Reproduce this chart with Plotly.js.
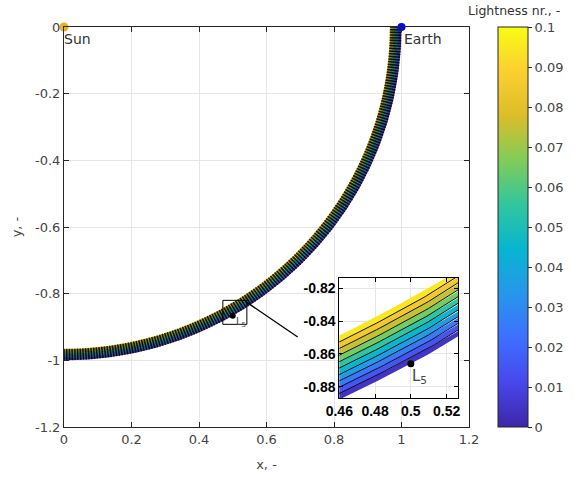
<!DOCTYPE html>
<html>
<head>
<meta charset="utf-8">
<script src="https://cdn.plot.ly/plotly-3.0.1.min.js"></script>
<style>html,body{margin:0;padding:0;background:#fff;}#plot{width:575px;height:481px;}</style>
</head>
<body>
<div id="plot"></div>
<script>
// ---- data ----
const levels = [0, 0.01, 0.02, 0.03, 0.04, 0.05, 0.06, 0.07, 0.08, 0.09, 0.1];
const radii  = [1.0000, 0.9967, 0.9933, 0.9899, 0.9865, 0.9830, 0.9796, 0.9761, 0.9725, 0.9690, 0.9655];
const bodyNames = ['Sun', 'Earth'];
const bodyX = [0, 1];
const bodyY = [0, 0];
const l5X = [0.5];
const l5Y = [-0.866];
const mainTickVals = [0, 0.2, 0.4, 0.6, 0.8, 1, 1.2];
const mainXTickText = ['0', '0.2', '0.4', '0.6', '0.8', '1', '1.2'];
const mainYTickVals = [0, -0.2, -0.4, -0.6, -0.8, -1, -1.2];
const mainYTickText = ['0', '-0.2', '-0.4', '-0.6', '-0.8', '-1', '-1.2'];
const insetXTicks = [0.46, 0.48, 0.5, 0.52];
const insetXText = ['0.46', '0.48', '0.5', '0.52'];
const insetYTicks = [-0.82, -0.84, -0.86, -0.88];
const insetYText = ['-0.82', '-0.84', '-0.86', '-0.88'];
const cbarTicks = [0, 0.01, 0.02, 0.03, 0.04, 0.05, 0.06, 0.07, 0.08, 0.09, 0.1];
const cbarText = ['0', '0.01', '0.02', '0.03', '0.04', '0.05', '0.06', '0.07', '0.08', '0.09', '0.1'];
const zoomBoxX = [0.4706, 0.5418];
const zoomBoxY = [-0.892, -0.820];
const leaderX = [0.5418, 0.6925];
const leaderY = [-0.8261, -0.930];

// ---- styling ----
const parula = [
  [62,38,168],[71,71,235],[62,111,255],[39,150,235],[8,181,208],
  [49,198,159],[129,204,89],[220,189,41],[252,207,48],[249,251,21]
];
const colorscale = parula.map((c, i) => [i / (parula.length - 1), 'rgb(' + c.join(',') + ')']);
function colorAt(t) {
  const n = parula.length - 1;
  const p = Math.min(Math.max(t, 0), 1) * n;
  const i = Math.min(Math.floor(p), n - 1);
  const f = p - i;
  const c = parula[i].map((v, k) => Math.round(v + (parula[i + 1][k] - v) * f));
  return 'rgb(' + c.join(',') + ')';
}
const vmin = levels[0], vmax = levels[levels.length - 1];

function arc(r, a0, a1, n) {
  const xs = [], ys = [];
  for (let i = 0; i <= n; i++) {
    const a = a0 + (a1 - a0) * i / n;
    xs.push(r * Math.cos(a)); ys.push(r * Math.sin(a));
  }
  return [xs, ys];
}

const traces = [];
const A0 = -Math.PI / 2, A1 = 0;

function addBands(xa, ya, a0, a1, n) {
  for (let k = 0; k < levels.length - 1; k++) {
    const [xo, yo] = arc(radii[k], a0, a1, n);
    const [xi, yi] = arc(radii[k + 1], a1, a0, n);
    const mid = (levels[k] + levels[k + 1]) / 2;
    traces.push({
      type: 'scatter', mode: 'lines', xaxis: xa, yaxis: ya,
      x: xo.concat(xi), y: yo.concat(yi), fill: 'toself',
      fillcolor: colorAt((mid - vmin) / (vmax - vmin)),
      line: {width: 0}, hoverinfo: 'skip', showlegend: false
    });
  }
}
function addLevelLines(xa, ya, a0, a1, n, w, col, from, to) {
  let xs = [], ys = [];
  for (let k = from; k <= to; k++) {
    const [x, y] = arc(radii[k], a0, a1, n);
    xs = xs.concat(x, [null]); ys = ys.concat(y, [null]);
  }
  traces.push({type: 'scatter', mode: 'lines', xaxis: xa, yaxis: ya, x: xs, y: ys,
    line: {color: col, width: w}, hoverinfo: 'skip', showlegend: false});
}

// main band
addBands('x', 'y', A0, A1, 360);
addLevelLines('x', 'y', A0, A1, 360, 0.7, 'rgba(0,0,0,0.7)', 1, levels.length - 2);
(function () {
  const xs = [], ys = [];
  const nRad = 190;
  const rOut = radii[0], rIn = radii[radii.length - 1];
  for (let i = 0; i <= nRad; i++) {
    const a = A0 + (A1 - A0) * i / nRad;
    xs.push(rOut * Math.cos(a), rIn * Math.cos(a), null);
    ys.push(rOut * Math.sin(a), rIn * Math.sin(a), null);
  }
  traces.push({type: 'scatter', mode: 'lines', xaxis: 'x', yaxis: 'y', x: xs, y: ys,
    line: {color: 'rgba(0,0,0,0.85)', width: 1.5}, hoverinfo: 'skip', showlegend: false});
})();

// bodies
traces.push({type: 'scatter', mode: 'markers', xaxis: 'x', yaxis: 'y',
  x: [bodyX[0]], y: [bodyY[0]], marker: {color: 'rgb(237,177,32)', size: 9},
  cliponaxis: false, hoverinfo: 'skip', showlegend: false});
traces.push({type: 'scatter', mode: 'markers', xaxis: 'x', yaxis: 'y',
  x: [bodyX[1]], y: [bodyY[1]], marker: {color: 'rgb(0,0,255)', size: 8},
  cliponaxis: false, hoverinfo: 'skip', showlegend: false});
traces.push({type: 'scatter', mode: 'markers', xaxis: 'x', yaxis: 'y',
  x: l5X, y: l5Y, marker: {color: '#000', size: 6}, hoverinfo: 'skip', showlegend: false});

// inset
const iA0 = -70 * Math.PI / 180, iA1 = -50 * Math.PI / 180;
addBands('x2', 'y2', iA0, iA1, 160);
addLevelLines('x2', 'y2', iA0, iA1, 160, 1, '#111', 1, levels.length - 2);
traces.push({type: 'scatter', mode: 'markers', xaxis: 'x2', yaxis: 'y2',
  x: l5X, y: l5Y, marker: {color: '#000', size: 7}, cliponaxis: false,
  hoverinfo: 'skip', showlegend: false});

// colorbar carrier
traces.push({type: 'scatter', mode: 'markers', xaxis: 'x', yaxis: 'y',
  x: [5, 5], y: [5, 5], hoverinfo: 'skip', showlegend: false,
  marker: {size: 1, opacity: 0, color: [vmin, vmax], cmin: vmin, cmax: vmax,
    colorscale: colorscale, showscale: true,
    colorbar: {x: 1.069, xanchor: 'left', xref: 'paper', y: 0.5, yanchor: 'middle',
      len: 1, lenmode: 'fraction', thickness: 30, thicknessmode: 'pixels',
      xpad: 0, ypad: 0, outlinewidth: 1, outlinecolor: '#262626',
      tickvals: cbarTicks, ticktext: cbarText, ticks: 'outside', ticklen: 4,
      tickcolor: '#262626', tickfont: {family: 'DejaVu Sans', size: 13, color: '#444'}}}
});

const baseFont = {family: 'DejaVu Sans', size: 13, color: '#444'};
const layout = {
  width: 575, height: 481,
  margin: {l: 64, r: 105, t: 27, b: 54},
  paper_bgcolor: '#fff', plot_bgcolor: '#fff',
  font: baseFont, showlegend: false,
  xaxis: {domain: [0, 1], range: [0, 1.2], tickvals: mainTickVals, ticktext: mainXTickText,
    ticks: 'inside', ticklen: 5, tickcolor: '#262626', showline: true, linecolor: '#262626',
    mirror: 'ticks', showgrid: true, gridcolor: '#e6e6e6', zeroline: false,
    tickfont: baseFont, title: {text: 'x, -', font: baseFont, standoff: 14}},
  yaxis: {domain: [0, 1], range: [-1.2, 0], tickvals: mainYTickVals, ticktext: mainYTickText,
    ticks: 'inside', ticklen: 5, tickcolor: '#262626', showline: true, linecolor: '#262626',
    mirror: 'ticks', showgrid: true, gridcolor: '#e6e6e6', zeroline: false,
    tickfont: baseFont, title: {text: 'y, -', font: baseFont, standoff: 10}},
  xaxis2: {domain: [0.6798, 0.9729], anchor: 'y2', range: [0.46, 0.5264],
    tickvals: insetXTicks, ticktext: insetXText, ticks: 'inside', ticklen: 4,
    tickcolor: '#000', showline: true, linecolor: '#000', mirror: 'ticks',
    showgrid: true, gridcolor: '#e6e6e6', zeroline: false,
    tickfont: {family: 'Liberation Sans', size: 14, color: '#000', weight: 'bold'}},
  yaxis2: {domain: [0.0725, 0.3725], anchor: 'x2', range: [-0.8869, -0.8138],
    tickvals: insetYTicks, ticktext: insetYText, ticks: 'inside', ticklen: 4,
    tickcolor: '#000', showline: true, linecolor: '#000', mirror: 'ticks',
    showgrid: true, gridcolor: '#e6e6e6', zeroline: false,
    tickfont: {family: 'Liberation Sans', size: 14, color: '#000', weight: 'bold'}},
  shapes: [
    {type: 'rect', xref: 'x', yref: 'y', x0: zoomBoxX[0], x1: zoomBoxX[1], y0: zoomBoxY[0], y1: zoomBoxY[1],
      line: {color: '#000', width: 1}},
    {type: 'line', xref: 'x', yref: 'y', x0: leaderX[0], x1: leaderX[1], y0: leaderY[0], y1: leaderY[1],
      line: {color: '#000', width: 1.3}}
  ],
  annotations: [
    {xref: 'x', yref: 'y', x: bodyX[0], y: bodyY[0], text: bodyNames[0], showarrow: false,
      xanchor: 'left', yanchor: 'top', xshift: -2, yshift: -2, font: {family: 'DejaVu Sans', size: 14, color: '#333'}},
    {xref: 'x', yref: 'y', x: bodyX[1], y: bodyY[1], text: bodyNames[1], showarrow: false,
      xanchor: 'left', yanchor: 'top', xshift: 0, yshift: -2, font: {family: 'DejaVu Sans', size: 14, color: '#333'}},
    {xref: 'x', yref: 'y', x: l5X[0], y: l5Y[0], text: 'L<sub>5</sub>', showarrow: false,
      xanchor: 'left', yanchor: 'top', xshift: 1, yshift: 2, font: {family: 'DejaVu Sans', size: 10, color: '#444'}},
    {xref: 'x2', yref: 'y2', x: l5X[0], y: l5Y[0], text: 'L<sub>5</sub>', showarrow: false,
      xanchor: 'left', yanchor: 'top', xshift: -1, yshift: -1, font: {family: 'DejaVu Sans', size: 15, color: '#444'}},
    {xref: 'paper', yref: 'paper', x: 1.111, y: 1.0425, text: 'Lightness nr., -', showarrow: false,
      xanchor: 'center', yanchor: 'middle', font: {family: 'DejaVu Sans', size: 12.5, color: '#333'}}
  ]
};

Plotly.newPlot('plot', traces, layout, {displayModeBar: false, staticPlot: true});
</script>
</body>
</html>
